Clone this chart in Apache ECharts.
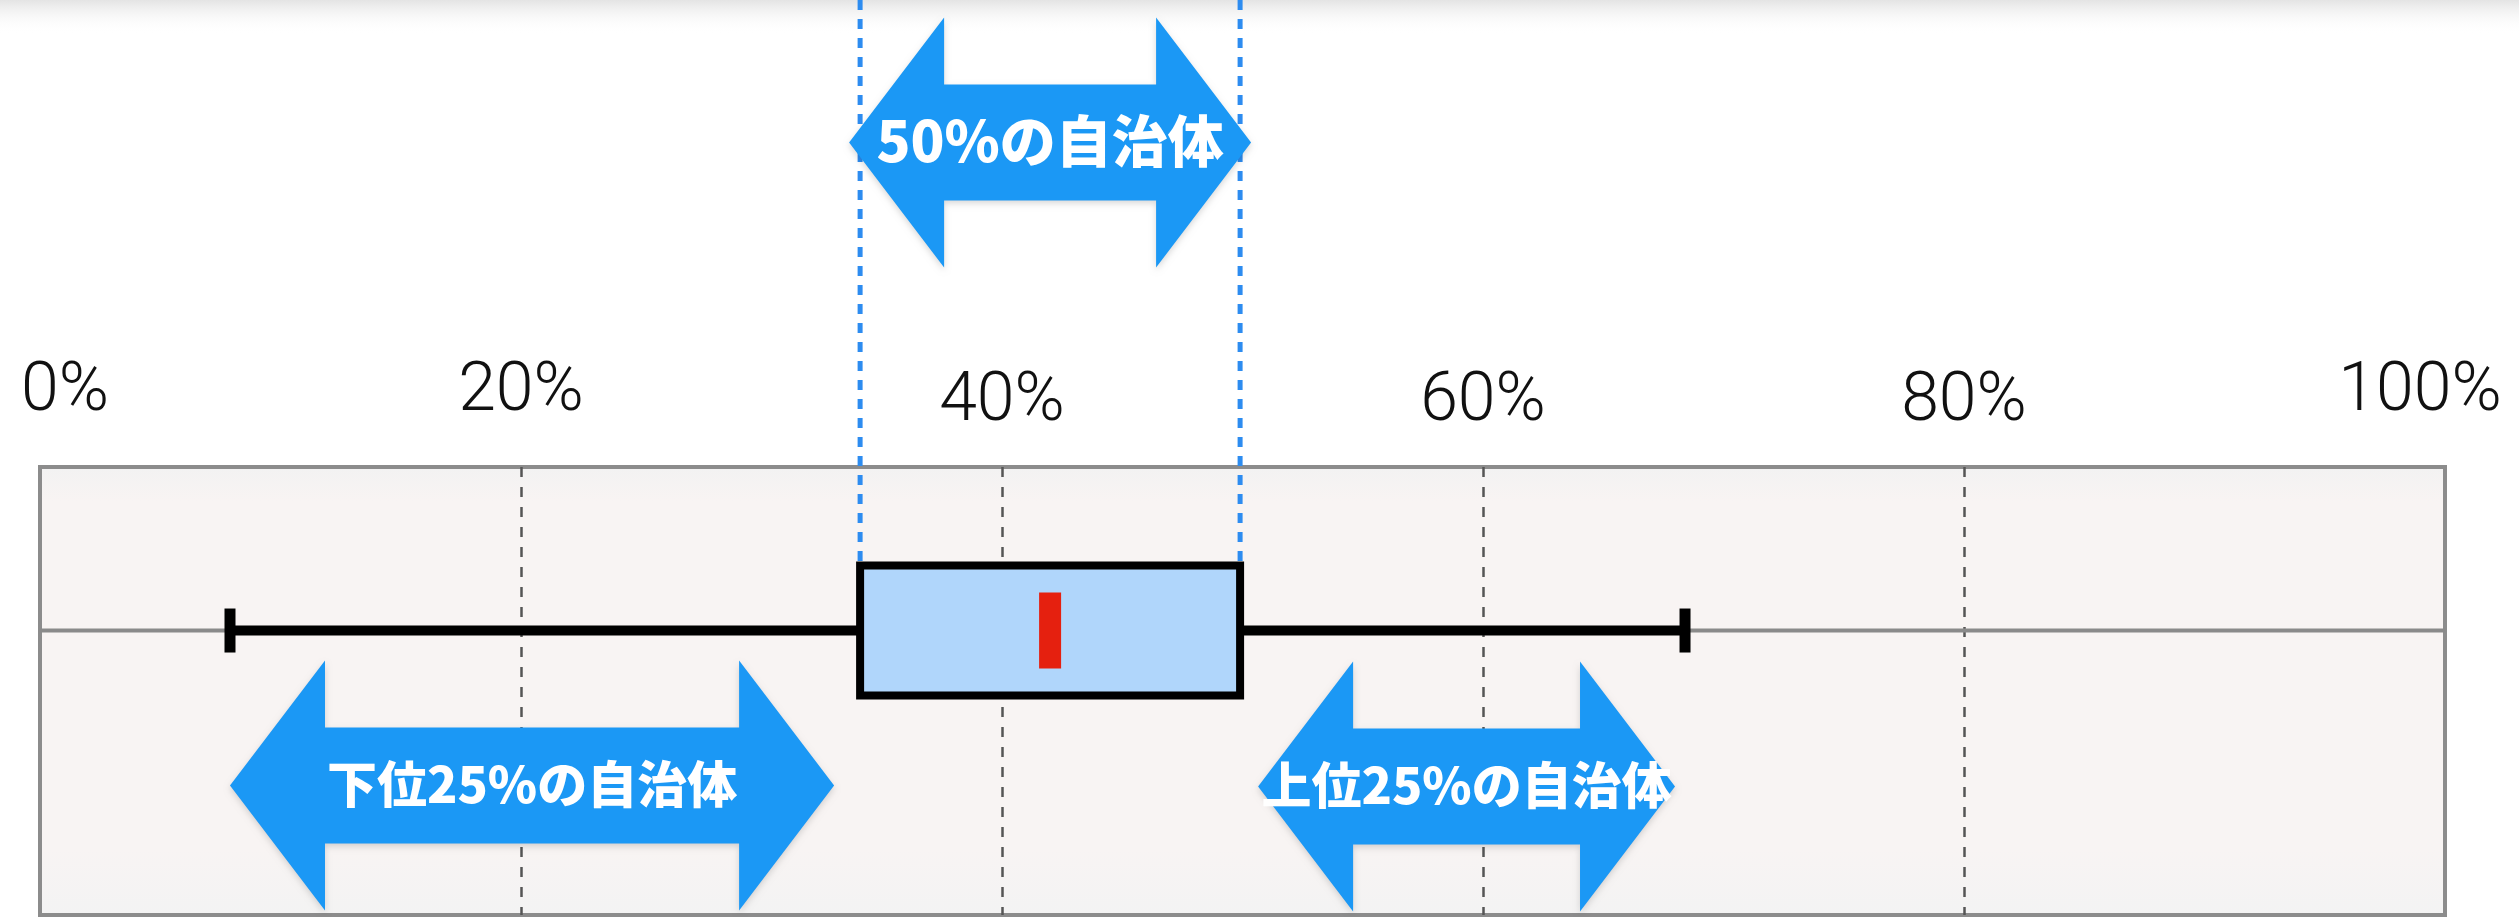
<!DOCTYPE html>
<html>
<head>
<meta charset="utf-8">
<script src="https://cdn.jsdelivr.net/npm/echarts@6/dist/echarts.min.js"></script>
<style>
  html, body { margin: 0; padding: 0; background: #fff; }
  #chart { width: 2519px; height: 917px; }
</style>
</head>
<body>
<div id="chart"></div>
<script>
// 箱ひげ図の統計値（%）: 最小, 第1四分位, 中央値, 第3四分位, 最大
const boxStats = [7.9, 34.1, 42.0, 49.9, 68.4];
// 目盛り
const tickValues = [0, 20, 40, 60, 80, 100];
// 矢印の範囲（boxStats のインデックス）とラベル
const arrowRanges = [[0, 1], [1, 3], [3, 4]];
const arrowLabels = ['下位25%の自治体', '50%の自治体', '上位25%の自治体'];

const BOX_Y = 63.5;          // 枠内での箱の高さ位置
const BLUE = '#1b98f5';
const tickFont = { fontFamily: 'Roboto, "Liberation Sans", sans-serif', fontWeight: 300, fontSize: 68, color: '#111' };

// 矢印の見た目（ピクセル）: 中心の上下オフセット, 左右の詰め, 文字サイズ
const arrowStyle = [
    { dy: 155, pad: [0, 26], font: 50 },
    { dy: -488, pad: [-11, -11], font: 56 },
    { dy: 156, pad: [18, 10], font: 50 }
];

const chart = echarts.init(document.getElementById('chart'));

function arrowPoints(xa, xb, cy) {
    const head = 95, hh = 125, sh = 58;
    return [
        [xa, cy], [xa + head, cy - hh], [xa + head, cy - sh], [xb - head, cy - sh], [xb - head, cy - hh],
        [xb, cy], [xb - head, cy + hh], [xb - head, cy + sh], [xa + head, cy + sh], [xa + head, cy + hh]
    ];
}

function renderBox(params, api) {
    const v = [0, 1, 2, 3, 4].map(i => api.value(i));
    const px = val => api.coord([val, BOX_Y])[0];
    const cy = api.coord([0, BOX_Y])[1];
    const [lo, q1, med, q3, hi] = v.map(px);
    const boxH = 65;
    const children = [];

    // 中心の灰色線
    children.push({
        type: 'line',
        shape: { x1: px(tickValues[0]), y1: cy, x2: px(tickValues[tickValues.length - 1]), y2: cy },
        style: { stroke: '#8a8a8a', lineWidth: 4 }
    });
    // 第1・第3四分位の青い点線
    [q1, q3].forEach(x => {
        children.push({
            type: 'line',
            shape: { x1: x, y1: 0, x2: x, y2: cy - boxH },
            style: { stroke: '#2d8cf0', lineWidth: 5, lineDash: [10, 9] }
        });
    });
    // ひげ
    children.push({
        type: 'line',
        shape: { x1: lo, y1: cy, x2: hi, y2: cy },
        style: { stroke: '#000', lineWidth: 10 }
    });
    [lo, hi].forEach(x => {
        children.push({
            type: 'line',
            shape: { x1: x, y1: cy - 22, x2: x, y2: cy + 22 },
            style: { stroke: '#000', lineWidth: 11 }
        });
    });
    // 箱
    children.push({
        type: 'rect',
        shape: { x: q1, y: cy - boxH, width: q3 - q1, height: boxH * 2 },
        style: { fill: '#b0d6fb', stroke: '#000', lineWidth: 8 }
    });
    // 中央値
    children.push({
        type: 'rect',
        shape: { x: med - 11, y: cy - 38, width: 22, height: 76 },
        style: { fill: '#e5200f' }
    });
    // 矢印
    arrowRanges.forEach((r, i) => {
        const s = arrowStyle[i];
        const xa = px(v[r[0]]) + s.pad[0];
        const xb = px(v[r[1]]) - s.pad[1];
        const ay = cy + s.dy;
        children.push({
            type: 'polygon',
            shape: { points: arrowPoints(xa, xb, ay) },
            style: { fill: BLUE, shadowBlur: 6, shadowOffsetY: 3, shadowColor: 'rgba(0,0,0,0.15)' }
        });
        children.push({
            type: 'text',
            style: {
                text: arrowLabels[i],
                x: (xa + xb) / 2,
                y: ay - 2,
                align: 'center',
                verticalAlign: 'middle',
                fill: '#fff',
                fontSize: s.font,
                fontWeight: 900,
                fontFamily: '"Noto Sans CJK JP", sans-serif'
            }
        });
    });

    return { type: 'group', children };
}

chart.setOption({
    animation: false,
    backgroundColor: '#fff',
    graphic: [{
        type: 'rect',
        silent: true,
        z: -10,
        shape: { x: 0, y: 0, width: 2519, height: 34 },
        style: {
            fill: new echarts.graphic.LinearGradient(0, 0, 0, 1, [
                { offset: 0, color: '#e4e4e4' },
                { offset: 1, color: 'rgba(255,255,255,0)' }
            ])
        }
    }],
    grid: {
        left: 40, right: 74, top: 467, bottom: 2,
        show: true,
        borderColor: '#8c8c8c',
        borderWidth: 4,
        backgroundColor: new echarts.graphic.LinearGradient(0, 0, 0, 1, [
            { offset: 0, color: '#f2f2f2' },
            { offset: 0.08, color: '#f8f4f3' },
            { offset: 0.85, color: '#f8f4f3' },
            { offset: 1, color: '#f3f3f3' }
        ])
    },
    xAxis: {
        type: 'value',
        position: 'top',
        min: tickValues[0],
        max: tickValues[tickValues.length - 1],
        interval: tickValues[1] - tickValues[0],
        axisLine: { show: false },
        axisTick: { show: false },
        axisLabel: {
            margin: 30,
            showMinLabel: true,
            showMaxLabel: true,
            formatter: val => {
                if (val === tickValues[0]) return '{first|' + val + '%}';
                if (val === tickValues[tickValues.length - 1]) return '{last|' + val + '%}';
                if (val === 20) return '{up|' + val + '%}';
                return '{n|' + val + '%}';
            },
            rich: {
                n: { ...tickFont },
                up: { ...tickFont, padding: [0, 0, 10, 0] },
                first: { ...tickFont, padding: [0, 0, 10, 50] },
                last: { ...tickFont, padding: [0, 50, 10, 0] }
            }
        },
        splitLine: {
            show: true,
            showMinLine: false,
            showMaxLine: false,
            lineStyle: { color: '#555', width: 2.5, type: [10, 10] }
        }
    },
    yAxis: {
        type: 'value',
        min: 0,
        max: 100,
        show: false
    },
    series: [{
        type: 'custom',
        clip: false,
        renderItem: renderBox,
        data: [boxStats]
    }]
});

window.addEventListener('resize', () => chart.resize());
</script>
</body>
</html>
